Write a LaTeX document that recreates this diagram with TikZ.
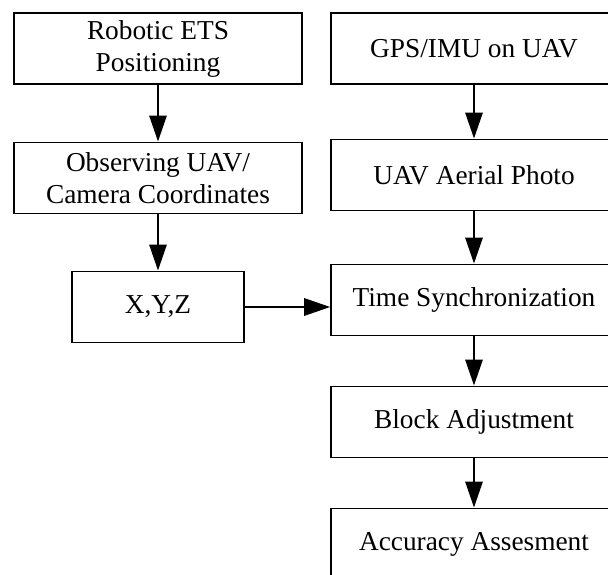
\documentclass[tikz,border=0pt]{standalone}
\usepackage{fontspec}
\setmainfont{Liberation Serif}
\usetikzlibrary{arrows.meta}

\tikzset{
  caja/.style={draw, line width=1.2pt, inner sep=0pt, align=center,
    minimum height=53.5pt, font=\fontsize{20.5}{24}\selectfont},
  flecha/.style={line width=1.5pt, -{Triangle[length=19.5pt,width=13pt]}}
}

\begin{document}
\begin{tikzpicture}[x=0.75pt,y=-0.75pt]
        % Marco de la figura
        \clip (0,0) rectangle (608,575);

        % Columna izquierda
        \node[caja, minimum width=216pt] (ets) at (158,48.5) {Robotic ETS\\Positioning};
        \node[caja, minimum width=216pt] (obs) at (158,178) {Observing UAV/\\Camera Coordinates};
        \node[caja, minimum width=129pt] (xyz) at (158,307) {X,Y,Z};

        % Columna derecha
        \node[caja, minimum width=214.5pt] (gps) at (474,48.5) {GPS/IMU on UAV};
        \node[caja, minimum width=214.5pt] (foto) at (474,175) {UAV Aerial Photo};
        \node[caja, minimum width=214.5pt] (sinc) at (474,300) {Time Synchronization};
        \node[caja, minimum width=214.5pt] (bloque) at (474,422) {Block Adjustment};
        \node[caja, minimum width=214.5pt] (prec) at (474,544) {Accuracy Assesment};

        % Flechas
        \draw[flecha] (ets) -- (obs);
        \draw[flecha] (obs) -- (xyz);
        \draw[flecha] (xyz.east) -- (xyz.east -| sinc.west);
        \draw[flecha] (gps) -- (foto);
        \draw[flecha] (foto) -- (sinc);
        \draw[flecha] (sinc) -- (bloque);
        \draw[flecha] (bloque) -- (prec);
\end{tikzpicture}
\end{document}
